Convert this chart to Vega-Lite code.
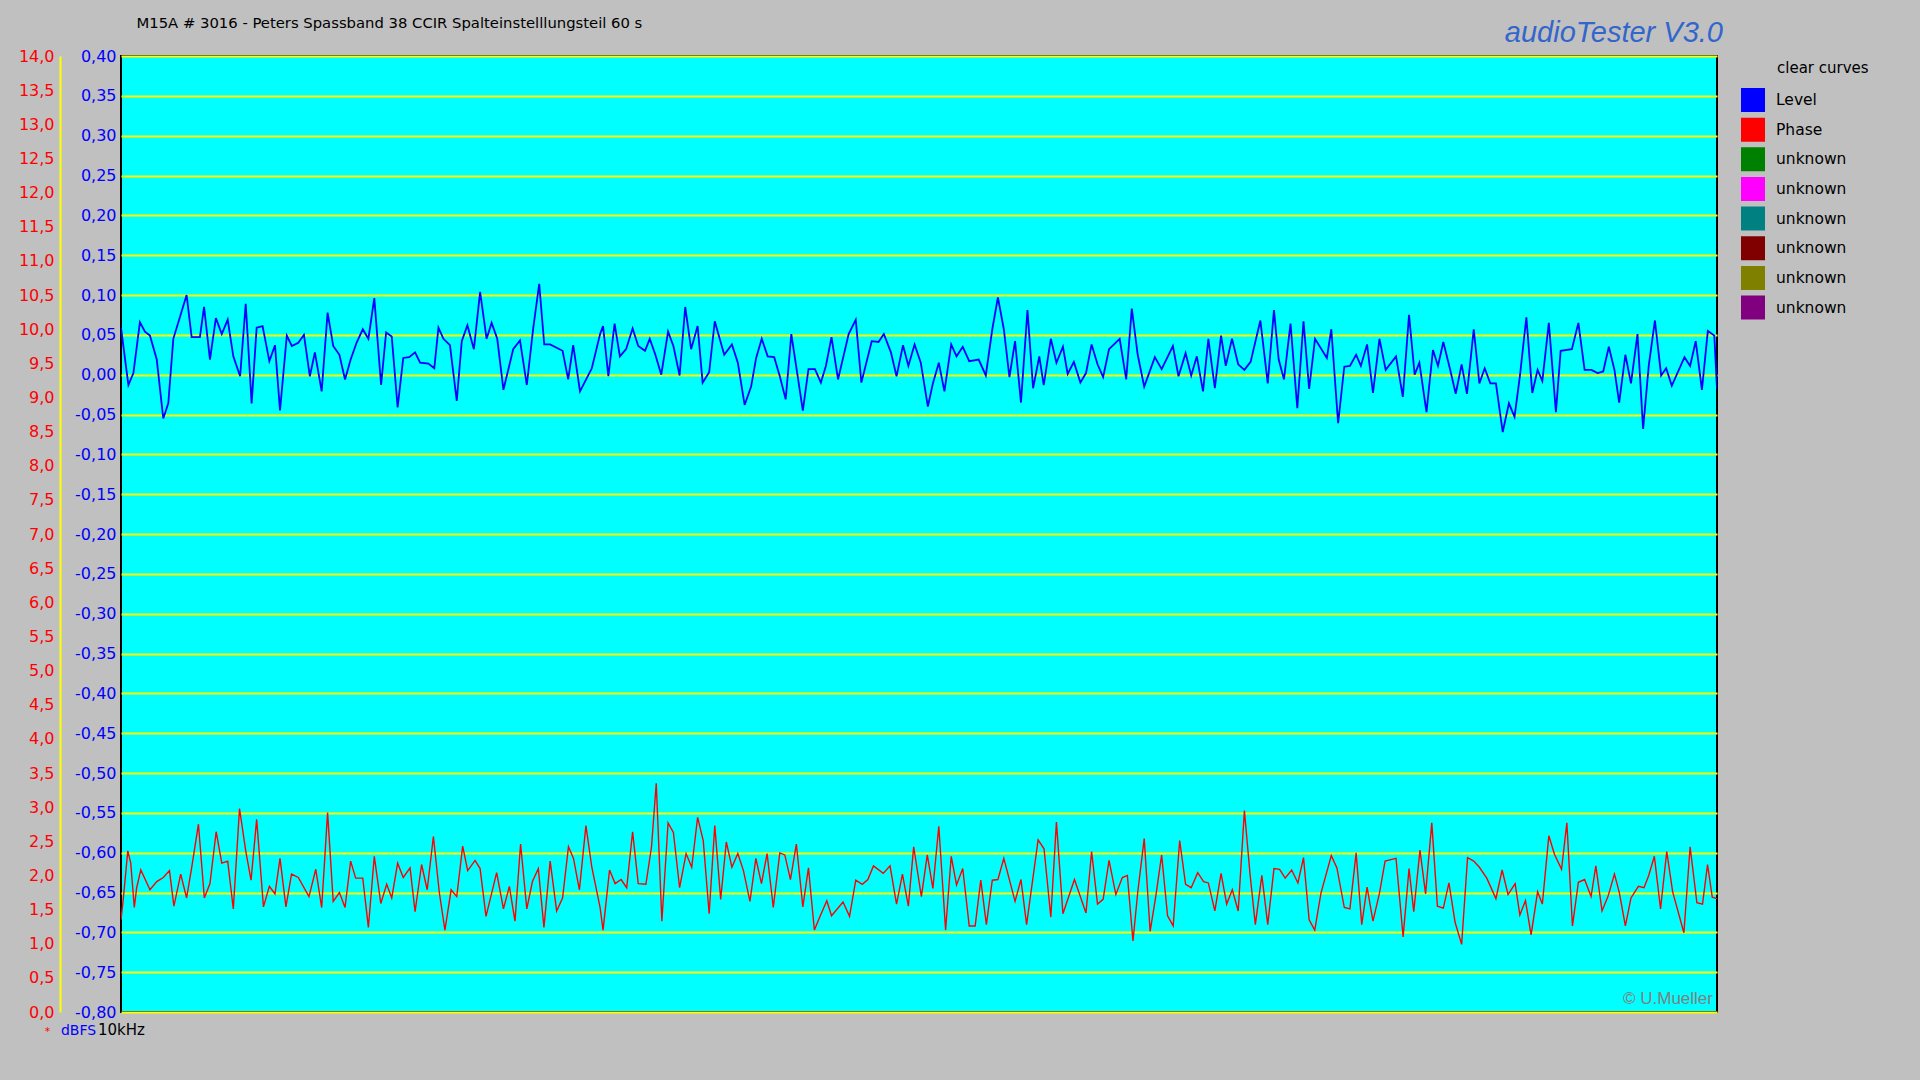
{
"$schema": "https://vega.github.io/schema/vega-lite/v6.json",
"width": 1596, "height": 956,
"autosize": {"type": "none"},
"padding": {"left": 121, "top": 56, "right": 203, "bottom": 68},
"background": "#c0c0c0",
"config": {"view": {"fill": "#00ffff", "stroke": "#000000", "strokeWidth": 2}, "font": "DejaVu Sans"},
"title": {"text": "audioTester  V3.0", "anchor": "end", "frame": "group", "font": "Liberation Sans", "fontSize": 29, "fontStyle": "italic", "fontWeight": "normal", "color": "#3366cc", "dx": 6, "dy": 33, "offset": 0},
"datasets": {
"level": [
{"f":10000.00,"v":0.059},{"f":10000.25,"v":-0.013},{"f":10000.42,"v":0.002},{"f":10000.64,"v":0.066},{"f":10000.81,"v":0.054},{"f":10000.98,"v":0.049},{"f":10001.21,"v":0.019},{"f":10001.43,"v":-0.055},{"f":10001.60,"v":-0.036},{"f":10001.77,"v":0.045},{"f":10002.22,"v":0.100},{"f":10002.39,"v":0.047},{"f":10002.67,"v":0.047},{"f":10002.81,"v":0.085},{"f":10003.01,"v":0.019},{"f":10003.21,"v":0.071},{"f":10003.41,"v":0.051},{"f":10003.61,"v":0.069},{"f":10003.80,"v":0.023},{"f":10004.03,"v":-0.002},{"f":10004.22,"v":0.089},{"f":10004.42,"v":-0.036},{"f":10004.59,"v":0.059},{"f":10004.79,"v":0.061},{"f":10005.02,"v":0.017},{"f":10005.21,"v":0.037},{"f":10005.38,"v":-0.045},{"f":10005.61,"v":0.049},{"f":10005.78,"v":0.036},{"f":10006.00,"v":0.040},{"f":10006.19,"v":0.050},{"f":10006.39,"v":-0.002},{"f":10006.56,"v":0.028},{"f":10006.79,"v":-0.021},{"f":10006.99,"v":0.078},{"f":10007.18,"v":0.036},{"f":10007.39,"v":0.025},{"f":10007.58,"v":-0.006},{"f":10007.77,"v":0.019},{"f":10007.97,"v":0.040},{"f":10008.18,"v":0.057},{"f":10008.37,"v":0.045},{"f":10008.57,"v":0.096},{"f":10008.80,"v":-0.013},{"f":10008.97,"v":0.053},{"f":10009.16,"v":0.048},{"f":10009.36,"v":-0.041},{"f":10009.55,"v":0.021},{"f":10009.75,"v":0.022},{"f":10009.95,"v":0.028},{"f":10010.12,"v":0.015},{"f":10010.40,"v":0.014},{"f":10010.60,"v":0.008},{"f":10010.74,"v":0.059},{"f":10010.91,"v":0.045},{"f":10011.13,"v":0.037},{"f":10011.36,"v":-0.033},{"f":10011.53,"v":0.042},{"f":10011.72,"v":0.062},{"f":10011.94,"v":0.032},{"f":10012.15,"v":0.104},{"f":10012.37,"v":0.045},{"f":10012.54,"v":0.065},{"f":10012.73,"v":0.045},{"f":10012.94,"v":-0.019},{"f":10013.27,"v":0.032},{"f":10013.50,"v":0.043},{"f":10013.73,"v":-0.013},{"f":10013.95,"v":0.059},{"f":10014.15,"v":0.114},{"f":10014.32,"v":0.038},{"f":10014.52,"v":0.038},{"f":10014.94,"v":0.030},{"f":10015.13,"v":-0.006},{"f":10015.30,"v":0.037},{"f":10015.53,"v":-0.021},{"f":10015.93,"v":0.008},{"f":10016.21,"v":0.051},{"f":10016.31,"v":0.061},{"f":10016.49,"v":-0.002},{"f":10016.70,"v":0.064},{"f":10016.88,"v":0.023},{"f":10017.09,"v":0.032},{"f":10017.31,"v":0.058},{"f":10017.50,"v":0.036},{"f":10017.73,"v":0.030},{"f":10017.89,"v":0.045},{"f":10018.08,"v":0.025},{"f":10018.28,"v":0.000},{"f":10018.51,"v":0.054},{"f":10018.69,"v":0.036},{"f":10018.90,"v":-0.001},{"f":10019.09,"v":0.085},{"f":10019.29,"v":0.032},{"f":10019.51,"v":0.061},{"f":10019.68,"v":-0.010},{"f":10019.90,"v":0.003},{"f":10020.09,"v":0.067},{"f":10020.41,"v":0.025},{"f":10020.67,"v":0.038},{"f":10020.87,"v":0.015},{"f":10021.10,"v":-0.038},{"f":10021.32,"v":-0.015},{"f":10021.49,"v":0.021},{"f":10021.68,"v":0.045},{"f":10021.88,"v":0.023},{"f":10022.10,"v":0.022},{"f":10022.29,"v":-0.002},{"f":10022.49,"v":-0.031},{"f":10022.68,"v":0.051},{"f":10022.87,"v":0.004},{"f":10023.07,"v":-0.045},{"f":10023.26,"v":0.007},{"f":10023.48,"v":0.007},{"f":10023.68,"v":-0.010},{"f":10023.85,"v":0.011},{"f":10024.04,"v":0.047},{"f":10024.26,"v":-0.006},{"f":10024.62,"v":0.051},{"f":10024.86,"v":0.069},{"f":10025.05,"v":-0.010},{"f":10025.40,"v":0.042},{"f":10025.63,"v":0.041},{"f":10025.81,"v":0.051},{"f":10026.05,"v":0.028},{"f":10026.24,"v":-0.002},{"f":10026.46,"v":0.037},{"f":10026.64,"v":0.011},{"f":10026.85,"v":0.038},{"f":10027.06,"v":0.015},{"f":10027.30,"v":-0.040},{"f":10027.47,"v":-0.011},{"f":10027.67,"v":0.015},{"f":10027.86,"v":-0.021},{"f":10028.09,"v":0.038},{"f":10028.27,"v":0.023},{"f":10028.48,"v":0.035},{"f":10028.70,"v":0.017},{"f":10029.02,"v":0.019},{"f":10029.26,"v":-0.001},{"f":10029.48,"v":0.057},{"f":10029.67,"v":0.097},{"f":10029.87,"v":0.057},{"f":10030.06,"v":-0.003},{"f":10030.25,"v":0.042},{"f":10030.45,"v":-0.035},{"f":10030.67,"v":0.081},{"f":10030.86,"v":-0.017},{"f":10031.07,"v":0.023},{"f":10031.22,"v":-0.013},{"f":10031.46,"v":0.045},{"f":10031.65,"v":0.015},{"f":10031.87,"v":0.035},{"f":10032.03,"v":0.001},{"f":10032.24,"v":0.016},{"f":10032.46,"v":-0.010},{"f":10032.65,"v":0.002},{"f":10032.84,"v":0.038},{"f":10033.04,"v":0.013},{"f":10033.23,"v":-0.003},{"f":10033.43,"v":0.032},{"f":10033.79,"v":0.045},{"f":10034.01,"v":-0.006},{"f":10034.20,"v":0.083},{"f":10034.40,"v":0.025},{"f":10034.62,"v":-0.015},{"f":10034.98,"v":0.022},{"f":10035.21,"v":0.007},{"f":10035.59,"v":0.036},{"f":10035.78,"v":-0.002},{"f":10036.02,"v":0.027},{"f":10036.21,"v":-0.001},{"f":10036.40,"v":0.023},{"f":10036.61,"v":-0.021},{"f":10036.79,"v":0.045},{"f":10037.01,"v":-0.017},{"f":10037.22,"v":0.049},{"f":10037.38,"v":0.011},{"f":10037.59,"v":0.045},{"f":10037.80,"v":0.013},{"f":10038.01,"v":0.006},{"f":10038.22,"v":0.016},{"f":10038.55,"v":0.068},{"f":10038.80,"v":-0.011},{"f":10039.01,"v":0.081},{"f":10039.17,"v":0.019},{"f":10039.35,"v":-0.006},{"f":10039.57,"v":0.064},{"f":10039.80,"v":-0.042},{"f":10040.01,"v":0.067},{"f":10040.20,"v":-0.018},{"f":10040.40,"v":0.045},{"f":10040.80,"v":0.021},{"f":10040.95,"v":0.057},{"f":10041.18,"v":-0.061},{"f":10041.39,"v":0.010},{"f":10041.58,"v":0.011},{"f":10041.79,"v":0.025},{"f":10041.95,"v":0.011},{"f":10042.16,"v":0.038},{"f":10042.36,"v":-0.023},{"f":10042.58,"v":0.045},{"f":10042.79,"v":0.006},{"f":10043.14,"v":0.023},{"f":10043.37,"v":-0.028},{"f":10043.58,"v":0.075},{"f":10043.77,"v":0.000},{"f":10043.93,"v":0.015},{"f":10044.17,"v":-0.047},{"f":10044.39,"v":0.031},{"f":10044.56,"v":0.011},{"f":10044.74,"v":0.041},{"f":10044.96,"v":0.008},{"f":10045.16,"v":-0.024},{"f":10045.36,"v":0.013},{"f":10045.54,"v":-0.024},{"f":10045.77,"v":0.057},{"f":10045.96,"v":-0.011},{"f":10046.14,"v":0.008},{"f":10046.33,"v":-0.011},{"f":10046.52,"v":-0.011},{"f":10046.75,"v":-0.072},{"f":10046.96,"v":-0.036},{"f":10047.15,"v":-0.053},{"f":10047.33,"v":-0.002},{"f":10047.55,"v":0.072},{"f":10047.75,"v":-0.023},{"f":10047.93,"v":0.006},{"f":10048.09,"v":-0.008},{"f":10048.31,"v":0.065},{"f":10048.55,"v":-0.047},{"f":10048.71,"v":0.030},{"f":10049.09,"v":0.032},{"f":10049.31,"v":0.065},{"f":10049.52,"v":0.006},{"f":10049.75,"v":0.006},{"f":10049.96,"v":0.002},{"f":10050.15,"v":0.004},{"f":10050.34,"v":0.035},{"f":10050.53,"v":0.006},{"f":10050.69,"v":-0.035},{"f":10050.90,"v":0.025},{"f":10051.09,"v":-0.011},{"f":10051.31,"v":0.051},{"f":10051.50,"v":-0.068},{"f":10051.69,"v":0.011},{"f":10051.90,"v":0.068},{"f":10052.11,"v":-0.001},{"f":10052.28,"v":0.008},{"f":10052.47,"v":-0.014},{"f":10052.90,"v":0.022},{"f":10053.09,"v":0.011},{"f":10053.28,"v":0.042},{"f":10053.49,"v":-0.019},{"f":10053.69,"v":0.055},{"f":10053.91,"v":0.049},{"f":10054.00,"v":-0.018}
],
"phase": [
{"f":10000.00,"p":1.35},{"f":10000.08,"p":1.67},{"f":10000.23,"p":2.36},{"f":10000.33,"p":2.18},{"f":10000.45,"p":1.53},{"f":10000.53,"p":1.82},{"f":10000.67,"p":2.08},{"f":10000.98,"p":1.79},{"f":10001.21,"p":1.91},{"f":10001.43,"p":1.97},{"f":10001.64,"p":2.07},{"f":10001.79,"p":1.55},{"f":10002.02,"p":2.02},{"f":10002.22,"p":1.67},{"f":10002.39,"p":2.11},{"f":10002.62,"p":2.75},{"f":10002.82,"p":1.67},{"f":10003.01,"p":1.88},{"f":10003.22,"p":2.64},{"f":10003.41,"p":2.18},{"f":10003.61,"p":2.21},{"f":10003.80,"p":1.51},{"f":10004.01,"p":2.98},{"f":10004.22,"p":2.36},{"f":10004.40,"p":1.93},{"f":10004.59,"p":2.82},{"f":10004.82,"p":1.54},{"f":10005.02,"p":1.84},{"f":10005.21,"p":1.73},{"f":10005.38,"p":2.25},{"f":10005.58,"p":1.54},{"f":10005.77,"p":2.02},{"f":10006.00,"p":1.97},{"f":10006.36,"p":1.69},{"f":10006.59,"p":2.09},{"f":10006.79,"p":1.53},{"f":10006.99,"p":2.92},{"f":10007.18,"p":1.62},{"f":10007.39,"p":1.75},{"f":10007.58,"p":1.53},{"f":10007.77,"p":2.21},{"f":10007.94,"p":1.96},{"f":10008.18,"p":1.96},{"f":10008.37,"p":1.24},{"f":10008.57,"p":2.28},{"f":10008.79,"p":1.59},{"f":10008.99,"p":1.87},{"f":10009.16,"p":1.67},{"f":10009.36,"p":2.18},{"f":10009.55,"p":1.97},{"f":10009.78,"p":2.11},{"f":10009.95,"p":1.47},{"f":10010.17,"p":2.16},{"f":10010.36,"p":1.79},{"f":10010.57,"p":2.57},{"f":10010.77,"p":1.75},{"f":10010.96,"p":1.20},{"f":10011.17,"p":1.79},{"f":10011.36,"p":1.69},{"f":10011.56,"p":2.43},{"f":10011.73,"p":2.07},{"f":10011.98,"p":2.22},{"f":10012.15,"p":2.10},{"f":10012.35,"p":1.40},{"f":10012.71,"p":2.04},{"f":10012.94,"p":1.51},{"f":10013.14,"p":1.84},{"f":10013.33,"p":1.33},{"f":10013.52,"p":2.46},{"f":10013.73,"p":1.51},{"f":10013.92,"p":1.91},{"f":10014.12,"p":2.10},{"f":10014.31,"p":1.24},{"f":10014.52,"p":2.21},{"f":10014.74,"p":1.48},{"f":10014.94,"p":1.67},{"f":10015.14,"p":2.42},{"f":10015.31,"p":2.25},{"f":10015.51,"p":1.79},{"f":10015.73,"p":2.73},{"f":10015.93,"p":2.12},{"f":10016.21,"p":1.53},{"f":10016.31,"p":1.20},{"f":10016.53,"p":2.08},{"f":10016.72,"p":1.88},{"f":10016.92,"p":1.94},{"f":10017.11,"p":1.82},{"f":10017.31,"p":2.64},{"f":10017.50,"p":1.88},{"f":10017.76,"p":1.87},{"f":10017.95,"p":2.42},{"f":10018.11,"p":3.35},{"f":10018.30,"p":1.33},{"f":10018.51,"p":2.77},{"f":10018.69,"p":2.63},{"f":10018.90,"p":1.82},{"f":10019.12,"p":2.32},{"f":10019.31,"p":2.12},{"f":10019.51,"p":2.85},{"f":10019.70,"p":2.51},{"f":10019.90,"p":1.44},{"f":10020.09,"p":2.73},{"f":10020.29,"p":1.65},{"f":10020.48,"p":2.49},{"f":10020.67,"p":2.12},{"f":10020.87,"p":2.32},{"f":10021.06,"p":2.07},{"f":10021.28,"p":1.62},{"f":10021.48,"p":2.25},{"f":10021.67,"p":1.88},{"f":10021.86,"p":2.32},{"f":10022.07,"p":1.53},{"f":10022.29,"p":2.33},{"f":10022.46,"p":2.30},{"f":10022.65,"p":1.94},{"f":10022.85,"p":2.46},{"f":10023.07,"p":1.54},{"f":10023.26,"p":2.11},{"f":10023.46,"p":1.20},{"f":10023.65,"p":1.40},{"f":10023.88,"p":1.63},{"f":10024.04,"p":1.41},{"f":10024.43,"p":1.61},{"f":10024.65,"p":1.40},{"f":10024.86,"p":1.93},{"f":10025.08,"p":1.87},{"f":10025.27,"p":1.94},{"f":10025.46,"p":2.14},{"f":10025.79,"p":2.03},{"f":10026.02,"p":2.14},{"f":10026.24,"p":1.58},{"f":10026.44,"p":2.02},{"f":10026.64,"p":1.55},{"f":10026.82,"p":2.42},{"f":10027.08,"p":1.69},{"f":10027.28,"p":2.30},{"f":10027.47,"p":1.81},{"f":10027.67,"p":2.72},{"f":10027.90,"p":1.20},{"f":10028.09,"p":2.28},{"f":10028.27,"p":1.86},{"f":10028.48,"p":2.10},{"f":10028.70,"p":1.26},{"f":10028.90,"p":1.26},{"f":10029.09,"p":1.93},{"f":10029.28,"p":1.28},{"f":10029.48,"p":1.93},{"f":10029.67,"p":1.94},{"f":10029.87,"p":2.25},{"f":10030.25,"p":1.62},{"f":10030.45,"p":1.94},{"f":10030.64,"p":1.28},{"f":10031.03,"p":2.52},{"f":10031.23,"p":2.39},{"f":10031.46,"p":1.39},{"f":10031.65,"p":2.78},{"f":10031.87,"p":1.44},{"f":10032.26,"p":1.94},{"f":10032.65,"p":1.45},{"f":10032.84,"p":2.35},{"f":10033.04,"p":1.58},{"f":10033.23,"p":1.65},{"f":10033.43,"p":2.22},{"f":10033.66,"p":1.72},{"f":10033.88,"p":1.97},{"f":10034.05,"p":2.00},{"f":10034.24,"p":1.04},{"f":10034.40,"p":1.75},{"f":10034.62,"p":2.54},{"f":10034.82,"p":1.18},{"f":10035.01,"p":1.69},{"f":10035.21,"p":2.30},{"f":10035.41,"p":1.41},{"f":10035.60,"p":1.26},{"f":10035.82,"p":2.51},{"f":10036.02,"p":1.87},{"f":10036.21,"p":1.82},{"f":10036.43,"p":2.04},{"f":10036.63,"p":1.91},{"f":10036.79,"p":1.89},{"f":10037.01,"p":1.48},{"f":10037.22,"p":2.03},{"f":10037.41,"p":1.58},{"f":10037.60,"p":1.79},{"f":10037.80,"p":1.48},{"f":10038.01,"p":2.95},{"f":10038.20,"p":2.02},{"f":10038.38,"p":1.28},{"f":10038.60,"p":2.00},{"f":10038.80,"p":1.28},{"f":10039.01,"p":2.10},{"f":10039.20,"p":2.09},{"f":10039.39,"p":1.96},{"f":10039.61,"p":2.08},{"f":10039.82,"p":1.89},{"f":10040.01,"p":2.26},{"f":10040.20,"p":1.35},{"f":10040.39,"p":1.20},{"f":10040.60,"p":1.74},{"f":10040.95,"p":2.29},{"f":10041.14,"p":2.11},{"f":10041.39,"p":1.53},{"f":10041.58,"p":1.51},{"f":10041.79,"p":2.33},{"f":10041.98,"p":1.28},{"f":10042.16,"p":1.83},{"f":10042.36,"p":1.33},{"f":10042.58,"p":1.74},{"f":10042.77,"p":2.21},{"f":10043.14,"p":2.25},{"f":10043.38,"p":1.10},{"f":10043.58,"p":2.10},{"f":10043.74,"p":1.47},{"f":10043.95,"p":2.37},{"f":10044.14,"p":1.73},{"f":10044.35,"p":2.77},{"f":10044.54,"p":1.55},{"f":10044.74,"p":1.52},{"f":10044.93,"p":1.89},{"f":10045.14,"p":1.31},{"f":10045.36,"p":0.99},{"f":10045.56,"p":2.26},{"f":10045.77,"p":2.21},{"f":10045.96,"p":2.12},{"f":10046.21,"p":1.96},{"f":10046.52,"p":1.66},{"f":10046.73,"p":2.08},{"f":10046.93,"p":1.72},{"f":10047.17,"p":1.88},{"f":10047.33,"p":1.42},{"f":10047.52,"p":1.63},{"f":10047.71,"p":1.13},{"f":10047.93,"p":1.76},{"f":10048.09,"p":1.58},{"f":10048.31,"p":2.58},{"f":10048.50,"p":2.31},{"f":10048.74,"p":2.09},{"f":10048.92,"p":2.77},{"f":10049.11,"p":1.26},{"f":10049.31,"p":1.90},{"f":10049.52,"p":1.94},{"f":10049.74,"p":1.69},{"f":10049.90,"p":2.14},{"f":10050.11,"p":1.48},{"f":10050.31,"p":1.69},{"f":10050.53,"p":2.02},{"f":10050.69,"p":1.76},{"f":10050.90,"p":1.26},{"f":10051.09,"p":1.67},{"f":10051.34,"p":1.84},{"f":10051.53,"p":1.82},{"f":10051.69,"p":2.00},{"f":10051.88,"p":2.28},{"f":10052.09,"p":1.51},{"f":10052.30,"p":2.35},{"f":10052.50,"p":1.76},{"f":10052.88,"p":1.16},{"f":10053.09,"p":2.42},{"f":10053.32,"p":1.60},{"f":10053.51,"p":1.58},{"f":10053.68,"p":2.16},{"f":10053.84,"p":1.68},{"f":10054.00,"p":1.66}
]
},
"layer": [
{
"data": {"name": "level"},
"mark": {"type": "line", "strokeWidth": 1.8, "clip": true},
"encoding": {
"x": {"field": "f", "type": "quantitative", "scale": {"domain": [10000, 10054], "nice": false, "zero": false},
 "axis": {"orient": "bottom", "values": [10000], "labelExpr": "'10kHz'", "labelColor": "#000000", "labelFontSize": 15, "labelFont": "DejaVu Sans", "labelPadding": 10, "labelFlush": false, "ticks": false, "tickSize": 0, "domain": false, "grid": false, "title": null}},
"y": {"field": "v", "type": "quantitative", "scale": {"domain": [-0.8, 0.4], "nice": false, "zero": false},
 "axis": {"orient": "left", "values": [-0.8,-0.75,-0.7,-0.65,-0.6,-0.55,-0.5,-0.45,-0.4,-0.35,-0.3,-0.25,-0.2,-0.15,-0.1,-0.05,0,0.05,0.1,0.15,0.2,0.25,0.3,0.35,0.4],
  "labelExpr": "(datum.value < -0.001 ? '-' : '') + replace(format(abs(datum.value), '.2f'), '.', ',')",
  "labelColor": "#0000ff", "labelFontSize": 16, "labelFont": "DejaVu Sans", "labelPadding": 5, "labelOverlap": false, "labelFlush": false,
  "ticks": false, "tickSize": 0, "domain": false, "grid": true, "gridColor": "#ffff00", "gridWidth": 2, "gridOpacity": 1,
  "title": "dBFS", "titleAngle": 0, "titleX": -43, "titleY": 974, "titleAlign": "center", "titleBaseline": "middle", "titleColor": "#0000ff", "titleFontSize": 14, "titleFont": "DejaVu Sans", "titleFontWeight": "normal"}},
"color": {"datum": "Level", "type": "nominal",
 "scale": {"domain": ["Level","Phase","unknown1","unknown2","unknown3","unknown4","unknown5","unknown6"], "range": ["#0000ff","#ff0000","#008000","#ff00ff","#008080","#800000","#808000","#800080"]},
 "legend": {"orient": "none", "legendX": 1620, "legendY": 5, "padding": 0, "title": "clear curves", "titleFontSize": 15, "titleFont": "DejaVu Sans", "titleFontWeight": "normal", "titleColor": "#000000", "titlePadding": 12,
  "symbolType": "square", "symbolSize": 484, "symbolStrokeWidth": 2, "labelFontSize": 15.5, "labelFont": "DejaVu Sans", "labelColor": "#000000", "labelOffset": 11, "rowPadding": -0.35,
  "labelExpr": "indexof(datum.label, 'unknown') == 0 ? 'unknown' : datum.label",
  "encode": {"symbols": {"update": {"fill": {"scale": "color", "field": "value"}, "stroke": {"value": "#808080"}, "strokeWidth": {"value": 2}, "opacity": {"value": 1}, "fillOpacity": {"value": 1}}}, "title": {"update": {"dx": {"value": 36}}}}}}
}
},
{
"data": {"name": "phase"},
"mark": {"type": "line", "strokeWidth": 1.4, "clip": true},
"encoding": {
"x": {"field": "f", "type": "quantitative",
 "axis": {"orient": "top", "labels": false, "ticks": false, "domain": false, "grid": false,
  "title": "M15A # 3016 - Peters Spassband 38 CCIR Spalteinstelllungsteil 60 s", "titleAnchor": "start", "titleAlign": "left", "titleX": 15, "titleY": -33, "titleBaseline": "middle", "titleFontSize": 14.8, "titleFont": "DejaVu Sans", "titleFontWeight": "normal", "titleColor": "#000000"}},
"y": {"field": "p", "type": "quantitative", "scale": {"domain": [0, 14], "nice": false},
 "axis": {"orient": "left", "offset": 61, "values": [0,0.5,1,1.5,2,2.5,3,3.5,4,4.5,5,5.5,6,6.5,7,7.5,8,8.5,9,9.5,10,10.5,11,11.5,12,12.5,13,13.5,14],
  "labelExpr": "replace(format(datum.value, '.1f'), '.', ',')",
  "labelColor": "#ff0000", "labelFontSize": 16, "labelFont": "DejaVu Sans", "labelPadding": 6, "labelOverlap": false, "labelFlush": false,
  "ticks": false, "tickSize": 0, "domain": true, "domainColor": "#ffff00", "domainWidth": 2, "grid": false,
  "title": "*", "titleAngle": 0, "titleX": -13, "titleY": 975, "titleAlign": "center", "titleBaseline": "middle", "titleColor": "#ff0000", "titleFontSize": 11, "titleFontWeight": "normal"}},
"color": {"datum": "Phase", "type": "nominal"}
}
},
{
"data": {"values": [{}]},
"mark": {"type": "text", "text": "© U.Mueller", "align": "right", "baseline": "middle", "dx": -4, "font": "Liberation Sans", "fontSize": 17, "color": "#808080"},
"encoding": {
"x": {"datum": 10054, "type": "quantitative", "axis": null},
"y": {"datum": -0.784, "type": "quantitative", "scale": {"domain": [-0.8, 0.4], "nice": false, "zero": false}, "axis": null}
}
}
],
"resolve": {"scale": {"y": "independent"}, "axis": {"x": "independent", "y": "independent"}}
}
